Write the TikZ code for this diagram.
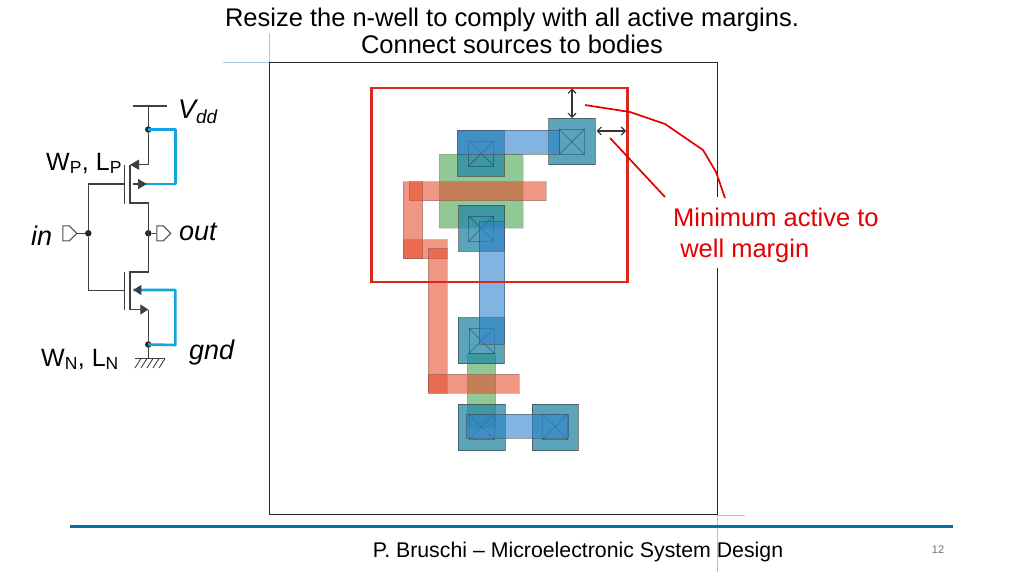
\documentclass[tikz,border=0pt]{standalone}
\usepackage{fontspec}
\setmainfont{Liberation Sans}
\usetikzlibrary{arrows.meta, shapes.symbols}
\definecolor{activeteal}{RGB}{35,135,162}
\definecolor{polyred}{RGB}{230,80,47}
\definecolor{metalblue}{RGB}{47,130,205}
\definecolor{gategreen}{RGB}{72,163,80}
\definecolor{wellred}{RGB}{218,40,30}
\definecolor{bodyblue}{RGB}{20,165,225}
\definecolor{rulecolor}{RGB}{0,112,173}
\definecolor{guideblue}{RGB}{160,200,230}
\tikzset{
        activebox/.style={fill=activeteal, fill opacity=0.75, draw=black!75, draw opacity=0.65, line width=1pt},
        polybar/.style={fill=polyred, fill opacity=0.6, draw=black!60, draw opacity=0.4, line width=0.9pt},
        metalbar/.style={fill=metalblue, fill opacity=0.6, draw=black!70, draw opacity=0.55, line width=0.9pt},
        gatebox/.style={fill=gategreen, fill opacity=0.6, draw=black!50, draw opacity=0.3, line width=0.9pt},
        contactbox/.style={draw=black!60!blue, draw opacity=0.3, line width=0.9pt},
        wire/.style={draw=black!75, line width=1.2pt},
        bodywire/.style={draw=bodyblue, line width=2.6pt, line join=round},
        junction/.style={circle, fill=black!85, inner sep=0pt, minimum size=6.5pt},
        pinbox/.style={signal, signal to=east, draw=black!70, line width=1pt, fill=white, inner sep=0pt, minimum width=14pt, minimum height=15pt},
        leader/.style={draw=red!90!black, line width=1.7pt},
        gauge/.style={draw=black!80, line width=1.1pt, {Straight Barb[length=4pt,width=8pt]}-{Straight Barb[length=4pt,width=8pt]}},
        guide/.style={draw=guideblue, line width=0.9pt},
        symbol/.style={inner sep=0pt, font=\fontsize{27}{30}\selectfont\itshape},
        sizelabel/.style={inner sep=0pt, font=\fontsize{25}{30}\selectfont}
}
\begin{document}
\begin{tikzpicture}[x=1pt, y=-1pt]
        \useasboundingbox (0,0) rectangle (1024,576);

        \draw[guide] (223,62.5) -- (269.5,62.5);
        \draw[guide] (269.5,33) -- (269.5,62.5);
        \draw[guide] (717.5,515) -- (745,515);
        \draw[guide] (717,515) -- (717,572);
        \node[draw=black!85, line width=1pt, inner sep=0pt, minimum width=448pt, minimum height=452pt] (frame) at (493.5,288.5) {};

        \draw[gatebox] (439,154.3) rectangle (523.3,228.3);
        \draw[gatebox] (467.3,353) rectangle (495.7,428);

        \draw[activebox] (548.7,118.3) rectangle (595,164.7);
        \draw[activebox] (457.7,130) rectangle (504,176.3);
        \draw[activebox] (458.7,205.3) rectangle (504.7,251.3);
        \draw[activebox] (458.3,317.7) rectangle (504.3,363.7);
        \draw[activebox] (458.3,404.3) rectangle (505,450.7);
        \draw[activebox] (532,404.3) rectangle (578.3,450.7);

        \foreach \cx/\cy in {559.3/129.3, 468.7/141, 468.7/216, 469/328.3, 469/414.3, 542.7/414.3} {
                \draw[contactbox] (\cx,\cy) rectangle ++(25,25);
                \draw[contactbox] (\cx,\cy) -- ++(25,25);
                \draw[contactbox] (\cx+25,\cy) -- ++(-25,25);
        }

        \draw[polybar] (409.3,181.7) rectangle (546,200.7);
        \draw[polybar] (403.3,181.7) rectangle (422.7,258.7);
        \draw[polybar] (403.3,239.7) rectangle (447.3,258.7);
        \draw[polybar] (428.3,248.3) rectangle (447.3,393.3);
        \draw[polybar] (428.3,374.3) rectangle (519,393.3);

        \draw[metalbar] (457.7,130) rectangle (559.3,154);
        \draw[metalbar] (479.3,221.3) rectangle (504.5,344.3);
        \draw[metalbar] (466.3,414.3) rectangle (568.7,438.3);

        \node[draw=wellred, line width=2.6pt, inner sep=0pt, minimum width=256pt, minimum height=194pt] (well) at (499.7,185) {};

        \coordinate (vtop) at (572,88.5);
        \coordinate (vbot) at (572,118);
        \coordinate (hleft) at (596.5,131);
        \coordinate (hright) at (626,131);
        \draw[gauge] (vtop) -- (vbot);
        \draw[gauge] (hleft) -- (hright);

        \node[inner xsep=1pt, inner ysep=0pt, minimum height=71pt, fill=white, text=red!90!black, font=\fontsize{25.5}{30.5}\selectfont, align=left, anchor=north west] (marginlabel) at (672,197) {\rule{0pt}{24pt}Minimum active to\\\ well margin};
        \coordinate (leadera) at (585,105);
        \coordinate (leaderb) at (725,198);
        \coordinate (leaderc) at (610,138);
        \coordinate (leaderd) at (665,197);
        \draw[leader] (leadera) -- (630,112) -- (665,124) -- (703,150) -- (716,172) -- (leaderb);
        \draw[leader] (leaderc) -- (leaderd);

        \coordinate (vddl) at (132.7,106);
        \coordinate (vddr) at (166.7,106);
        \coordinate (vddm) at (148.3,106);
        \node[junction] (vddj) at (148.3,129.5) {};
        \coordinate (psrc) at (148.3,164.7);
        \coordinate (pch1) at (130,164.7);
        \coordinate (pch2) at (130,203);
        \coordinate (pdrn) at (148.3,203);
        \node[junction] (outj) at (148.3,233.3) {};
        \node[junction] (inj) at (88.3,233.3) {};
        \coordinate (ndrn) at (148.3,272);
        \coordinate (nch1) at (130,272);
        \coordinate (nch2) at (130,309.5);
        \coordinate (nsrc) at (148.3,309.5);
        \node[junction] (gndj) at (148.3,344.5) {};
        \coordinate (gndm) at (148.3,358.5);
        \coordinate (gndl) at (135,358.5);
        \coordinate (gndr) at (165,358.5);
        \coordinate (pgate) at (124.7,184);
        \coordinate (ngate) at (124.7,290.5);
        \coordinate (ptop) at (124.7,165);
        \coordinate (pbot) at (124.7,203.5);
        \coordinate (ntop) at (124.7,271.5);
        \coordinate (nbot) at (124.7,310);
        \node[pinbox] (inpin) at (66,233.3) {};
        \node[pinbox] (outpin) at (160,233.3) {};

        \draw[wire] (vddl) -- (vddr);
        \draw[wire] (vddm) -- (psrc);
        \draw[wire] (pch1) -- (pch2) -- (pdrn) -- (ndrn) -- (nch1) -- (nch2);
        \draw[wire] (nsrc) -- (gndm);
        \draw[wire] (ptop) -- (pbot);
        \draw[wire] (ntop) -- (nbot);
        \draw[wire] (pgate) -| (inj) |- (ngate);
        \draw[wire] (inpin) -- (inj);
        \draw[wire] (outj) -- (outpin);
        \draw[wire] (gndl) -- (gndr);
        \foreach \hx in {141,147,153,159,165} {
                \draw[wire, line width=0.9pt] (\hx,358.5) -- (\hx-6,368);
        }

        \coordinate (pbody) at (133.3,184);
        \coordinate (nbody) at (133.3,290);
        \coordinate (prail) at (175.3,129.5);
        \coordinate (nrail) at (175.3,345);
        \draw[bodywire] (vddj.center) -- (prail) |- (pbody);
        \draw[bodywire] (nbody) -| (nrail) -- (gndj.center);

        \draw[wire, -{Triangle[length=9pt,width=10pt]}] (pbody) -- (147,184);
        \draw[wire, -{Triangle[length=9pt,width=10pt]}] (psrc) -- (pch1);
        \draw[wire, -{Triangle[length=8pt,width=10pt]}] (139,290) -- (nbody);
        \draw[wire, -{Triangle[length=8pt,width=10pt]}] (pch1 |- nsrc) -- (nsrc);

        \node[symbol, anchor=base west] (vddlabel) at (178,118) {V\textsubscript{dd}};
        \node[symbol, anchor=base west] (inlabel) at (31,245) {in};
        \node[symbol, anchor=base west] (outlabel) at (179,240) {out};
        \node[symbol, anchor=base west] (gndlabel) at (189,359) {gnd};
        \node[sizelabel, anchor=base west] (plabel) at (46,170) {W\textsubscript{P}, L\textsubscript{P}};
        \node[sizelabel, anchor=base west] (nlabel) at (41,366) {W\textsubscript{N}, L\textsubscript{N}};

        \node[font=\fontsize{25.5}{27}\selectfont, align=center, inner sep=0pt, anchor=north] (title) at (512,8) {Resize the n-well to comply with all active margins.\\Connect sources to bodies};

        \coordinate (rulea) at (70,526);
        \coordinate (ruleb) at (953,526);
        \draw[draw=rulecolor, line width=3pt] (rulea) -- (ruleb);
        \node[font=\fontsize{21.3}{26}\selectfont, inner sep=0pt, anchor=base] (footer) at (578,557) {P. Bruschi -- Microelectronic System Design};
        \node[font=\fontsize{11}{13}\selectfont, text=black!55, inner sep=0pt, anchor=base] (pagenum) at (938,553) {12};
\end{tikzpicture}
\end{document}
